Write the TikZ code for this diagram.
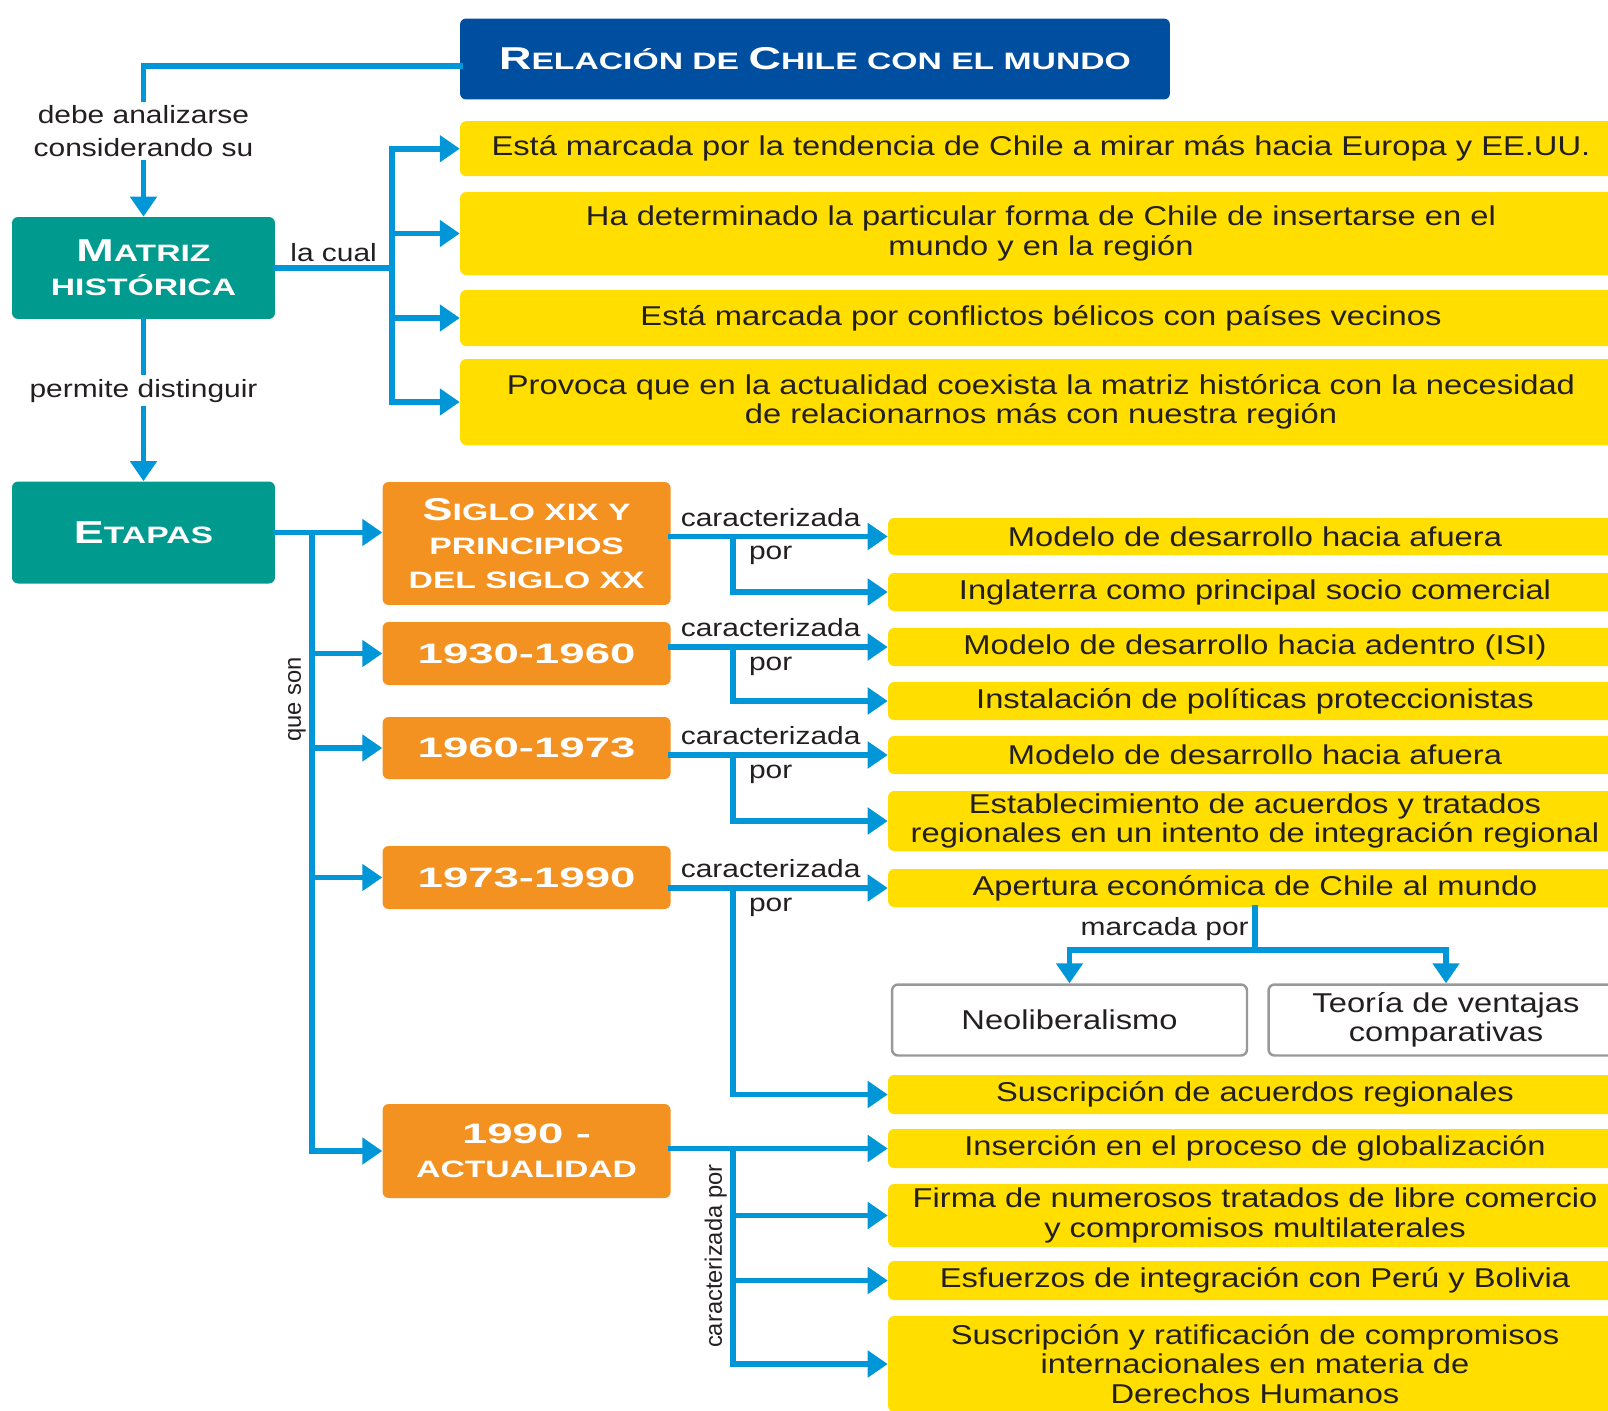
\documentclass[tikz,border=0pt]{standalone}
\usepackage{fontspec}
\setmainfont[FakeStretch=1.2]{Liberation Sans}
\newfontfamily\headfont[FakeStretch=1.42]{Liberation Sans Bold}
\newfontfamily\numfont[FakeStretch=1.62]{Liberation Sans Bold}
\newfontfamily\sidefont{Liberation Sans}
\usetikzlibrary{positioning, arrows.meta}

\definecolor{titleblue}{RGB}{0,78,160}
\definecolor{matteal}{RGB}{0,155,142}
\definecolor{etaporange}{RGB}{243,146,33}
\definecolor{boxyellow}{RGB}{255,222,0}
\definecolor{linkblue}{RGB}{0,150,215}
\definecolor{inkgray}{RGB}{35,31,32}

\newcommand{\capbig}[1]{{\fontsize{18}{20}\selectfont #1}}
\newcommand{\capnum}[1]{{\numfont\fontsize{16}{20}\selectfont #1}}

\tikzset{
    headbox/.style={rounded corners=0.12cm, text=white, align=center, inner sep=0pt,
        font=\headfont\fontsize{13.5}{19.5}\selectfont},
    titlebox/.style={headbox, fill=titleblue, minimum width=14.2cm, minimum height=1.62cm},
    tealbox/.style={headbox, fill=matteal, minimum width=5.26cm, minimum height=2.04cm},
    periodbox/.style={headbox, fill=etaporange, minimum width=5.76cm},
    ideabox/.style={rounded corners=0.12cm, fill=boxyellow, text=inkgray, align=center,
        inner sep=0pt, minimum width=23.24cm, font=\fontsize{15.5}{16.8}\selectfont},
    factbox/.style={ideabox, minimum width=14.68cm},
    themebox/.style={rounded corners=0.12cm, draw=black!40, line width=1.4pt, fill=white,
        text=inkgray, align=center, inner sep=0pt, minimum width=7.1cm, minimum height=1.42cm,
        font=\fontsize{15.5}{16.8}\selectfont},
    lbl/.style={text=inkgray, align=center, inner sep=2pt, font=\fontsize{14.2}{18.7}\selectfont},
    sidelbl/.style={lbl, font=\sidefont\fontsize{13.5}{16}\selectfont},
    link/.style={draw=linkblue, line width=3.2pt, line cap=rect},
    linkarrow/.style={link, -{Triangle[length=0.4cm, width=0.52cm]}}
}

\begin{document}
\begin{tikzpicture}[x=0.02cm, y=-0.02cm]

    \useasboundingbox (0, 0) rectangle (1608, 1410);
    \clip (0, 0) rectangle (1608, 1410);

    % main concepts
    \node[titlebox] (title) at (815, 59) {\capbig{R}ELACIÓN DE \capbig{C}HILE CON EL MUNDO};
    \node[tealbox] (matriz) at (143.5, 268) {\capbig{M}ATRIZ\\HISTÓRICA};
    \node[tealbox] (etapas) at (143.5, 532.5) {\capbig{E}TAPAS};

    % what the historic matrix is like
    \node[ideabox, minimum height=1.1cm] (y1) at (1041, 148.7) {Está marcada por la tendencia de Chile a mirar más hacia Europa y EE.UU.};
    \node[ideabox, minimum height=1.66cm] (y2) at (1041, 233.5) {Ha determinado la particular forma de Chile de insertarse en el\\mundo y en la región};
    \node[ideabox, minimum height=1.12cm] (y3) at (1041, 318) {Está marcada por conflictos bélicos con países vecinos};
    \node[ideabox, minimum height=1.72cm] (y4) at (1041, 402) {Provoca que en la actualidad coexista la matriz histórica con la necesidad\\de relacionarnos más con nuestra región};

    % the periods
    \node[periodbox, minimum height=2.46cm] (o1) at (526.6, 543.5) {\capbig{S}IGLO XIX Y\\PRINCIPIOS\\DEL SIGLO XX};
    \node[periodbox, minimum height=1.26cm] (o2) at (526.6, 653.5) {\capnum{1930-1960}};
    \node[periodbox, minimum height=1.24cm] (o3) at (526.6, 748) {\capnum{1960-1973}};
    \node[periodbox, minimum height=1.26cm] (o4) at (526.6, 877.5) {\capnum{1973-1990}};
    \node[periodbox, minimum height=1.88cm] (o5) at (526.6, 1151) {\capnum{1990 -}\\ACTUALIDAD};

    % features of each period
    \node[factbox, minimum height=0.74cm] (c1) at (1255, 536.5) {Modelo de desarrollo hacia afuera};
    \node[factbox, minimum height=0.76cm] (c2) at (1255, 592) {Inglaterra como principal socio comercial};
    \node[factbox, minimum height=0.76cm] (c3) at (1255, 647) {Modelo de desarrollo hacia adentro (ISI)};
    \node[factbox, minimum height=0.76cm] (c4) at (1255, 701) {Instalación de políticas proteccionistas};
    \node[factbox, minimum height=0.76cm] (c5) at (1255, 755) {Modelo de desarrollo hacia afuera};
    \node[factbox, minimum height=1.2cm] (c6) at (1255, 821) {Establecimiento de acuerdos y tratados\\regionales en un intento de integración regional};
    \node[factbox, minimum height=0.76cm] (c7) at (1255, 888) {Apertura económica de Chile al mundo};
    \node[themebox] (w1) at (1069.5, 1020) {Neoliberalismo};
    \node[themebox] (w2) at (1446, 1020) {Teoría de ventajas\\comparativas};
    \node[factbox, minimum height=0.78cm] (c8) at (1255, 1094.5) {Suscripción de acuerdos regionales};
    \node[factbox, minimum height=0.78cm] (c9) at (1255, 1148.5) {Inserción en el proceso de globalización};
    \node[factbox, minimum height=1.26cm] (c10) at (1255, 1215.5) {Firma de numerosos tratados de libre comercio\\y compromisos multilaterales};
    \node[factbox, minimum height=0.78cm] (c11) at (1255, 1280.5) {Esfuerzos de integración con Perú y Bolivia};
    \node[factbox, minimum height=1.92cm] (c12) at (1255, 1364) {Suscripción y ratificación de compromisos\\internacionales en materia de\\Derechos Humanos};

    % branching points
    \coordinate (split0) at (460, 66);
    \coordinate (split1) at (392, 268);
    \coordinate (split2) at (312, 532.5);
    \coordinate (split3) at (733, 0);
    \coordinate (split4) at (1255, 950);

    % title to matrix to periods
    \draw[linkarrow] (split0) -| (matriz.north) node[lbl, fill=white, pos=0.715] {debe analizarse\\considerando su};
    \draw[linkarrow] (matriz) -- (etapas) node[lbl, fill=white, pos=0.44] {permite distinguir};

    % matrix to its traits
    \draw[link] (matriz.east) -- (split1) node[lbl, midway, above] {la cual};
    \draw[link] (split1 |- y1.west) -- (split1 |- y4.west);
    \foreach \b in {y1, y2, y3, y4}
        \draw[linkarrow] (split1 |- \b.west) -- (\b.west);

    % periods
    \draw[linkarrow] (etapas.east) -- (etapas.east -| o1.west);
    \draw[link] (split2 |- o5.west) -- (split2) node[sidelbl, pos=0.73, above, sloped] {que son};
    \foreach \b in {o2, o3, o4, o5}
        \draw[linkarrow] (split2 |- \b.west) -- (\b.west);

    % period features
    \draw[linkarrow] (o1.east |- c1.west) -- (c1.west) node[lbl, pos=0.46, above, inner sep=4pt] {caracterizada} node[lbl, pos=0.46, below, inner sep=4pt] {por};
    \draw[linkarrow] (split3 |- c1.west) |- (c2.west);
    \draw[linkarrow] (o2.east |- c3.west) -- (c3.west) node[lbl, pos=0.46, above, inner sep=4pt] {caracterizada} node[lbl, pos=0.46, below, inner sep=4pt] {por};
    \draw[linkarrow] (split3 |- c3.west) |- (c4.west);
    \draw[linkarrow] (o3.east |- c5.west) -- (c5.west) node[lbl, pos=0.46, above, inner sep=4pt] {caracterizada} node[lbl, pos=0.46, below, inner sep=4pt] {por};
    \draw[linkarrow] (split3 |- c5.west) |- (c6.west);
    \draw[linkarrow] (o4.east |- c7.west) -- (c7.west) node[lbl, pos=0.46, above, inner sep=4pt] {caracterizada} node[lbl, pos=0.46, below, inner sep=4pt] {por};
    \draw[linkarrow] (split3 |- c7.west) |- (c8.west);
    \draw[link] (c7.south) -- (split4) node[lbl, midway, left] {marcada por};
    \draw[linkarrow] (split4) -| (w1.north);
    \draw[linkarrow] (split4) -| (w2.north);

    % present day
    \draw[linkarrow] (o5.east |- c9.west) -- (c9.west);
    \draw[link] (split3 |- c12.west) -- (split3 |- c9.west) node[sidelbl, midway, above, sloped] {caracterizada por};
    \foreach \b in {c10, c11, c12}
        \draw[linkarrow] (split3 |- \b.west) -- (\b.west);

\end{tikzpicture}
\end{document}
